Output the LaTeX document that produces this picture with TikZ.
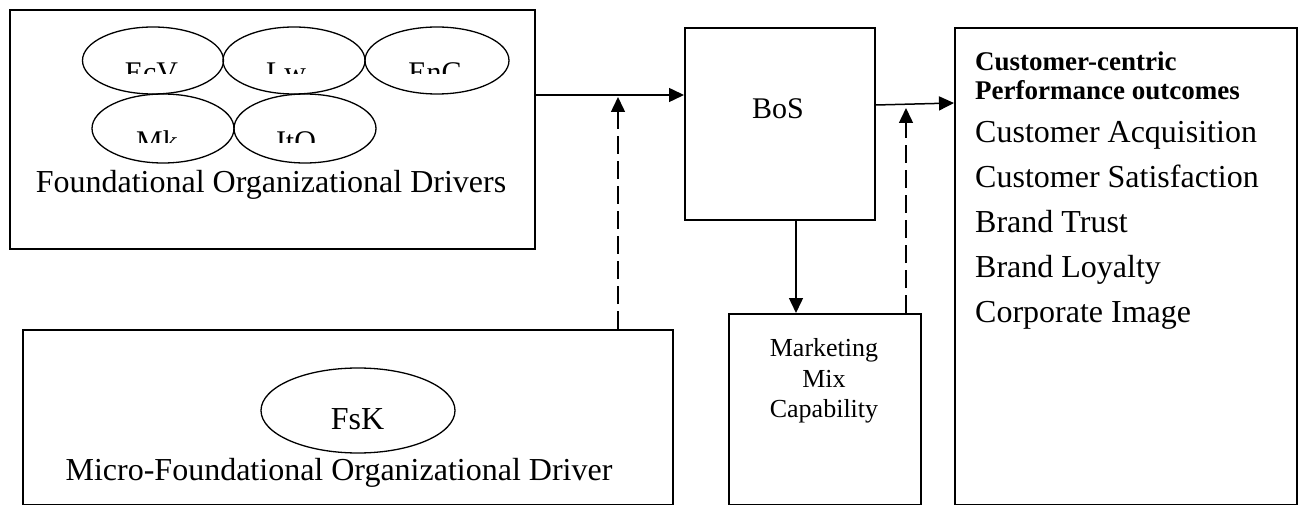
\documentclass[tikz,border=0pt]{standalone}
\usepackage{fontspec}
\setmainfont{Liberation Serif}
\usetikzlibrary{arrows.meta,shapes.geometric}
\begin{document}
\begin{tikzpicture}[x=1pt,y=-1pt,
  box/.style={draw,line width=1.6pt,inner sep=0pt,anchor=north west},
  ell/.style={draw,ellipse,line width=1.3pt,inner sep=0pt},
  conn/.style={line width=1.5pt,-{Triangle[length=15pt,width=14pt]}},
  dconn/.style={conn,dash pattern=on 18pt off 7pt},
  txt/.style={inner sep=0pt,anchor=base,font=\fontsize{32}{38}\selectfont},
  etxt/.style={inner sep=0pt,anchor=base,font=\fontsize{30}{36}\selectfont},
  ltxt/.style={inner sep=0pt,anchor=base west,font=\fontsize{32}{38}\selectfont},
  btxt/.style={inner sep=0pt,anchor=base west,font=\fontsize{27}{32}\selectfont\bfseries},
  stxt/.style={inner sep=0pt,anchor=base,font=\fontsize{26}{30}\selectfont}
]
\useasboundingbox (0,0) rectangle (1304,505);
\fill[white] (0,0) rectangle (1304,505);

% boxes
\node[box,minimum width=525,minimum height=239] (fod) at (9,9) {};
\node[box,minimum width=190,minimum height=192] (bos) at (684,27) {};
\node[box,minimum width=342,minimum height=477] (out) at (954,27) {};
\node[box,minimum width=650,minimum height=175] (micro) at (22,329) {};
\node[box,minimum width=192,minimum height=191] (mmc) at (728,313) {};

% ellipses
\node[ell,minimum width=141,minimum height=67] (eEcV) at (153,60.5) {};
\node[ell,minimum width=142,minimum height=67] (eLw) at (294,60.5) {};
\node[ell,minimum width=144,minimum height=67] (eEnC) at (437,60.5) {};
\node[ell,minimum width=142,minimum height=69] (eMk) at (163,128.5) {};
\node[ell,minimum width=142,minimum height=69] (eItO) at (305,128.5) {};
\node[ell,minimum width=194,minimum height=85] (eFsK) at (358,410.5) {};

% clipped ellipse labels
\begin{scope}
\clip (0,0) rectangle (1304,74);
\node[etxt] (tEcV) at (151.5,83) {EcV};
\node[etxt] (tLw) at (286,83) {Lw};
\node[etxt] (tEnC) at (435,83) {EnC};
\end{scope}
\begin{scope}
\clip (0,95) rectangle (1304,143);
\node[etxt] (tMk) at (157,152) {Mk};
\node[etxt] (tItO) at (296,152) {ItO};
\end{scope}

% texts
\node[txt] (tfod) at (271,193) {Foundational Organizational Drivers};
\node[etxt] (tbos) at (778,119) {BoS};
\node[txt] (tfsk) at (357.5,429) {FsK};
\node[txt] (tmicro) at (339,480) {Micro-Foundational Organizational Driver};
\node[stxt] (tm1) at (824,356) {Marketing};
\node[stxt] (tm2) at (824,387) {Mix};
\node[stxt] (tm3) at (824,417) {Capability};
\node[btxt] (o1) at (975,71) {Customer-centric};
\node[btxt] (o2) at (975,100) {Performance outcomes};
\node[ltxt] (o3) at (975,143) {Customer Acquisition};
\node[ltxt] (o4) at (975,188) {Customer Satisfaction};
\node[ltxt] (o5) at (975,232.5) {Brand Trust};
\node[ltxt] (o6) at (975,277) {Brand Loyalty};
\node[ltxt] (o7) at (975,322) {Corporate Image};

% helper coordinates
\coordinate (y95) at (0,95);
\coordinate (x618) at (618,0);
\coordinate (tip1) at (618,97);
\coordinate (x796) at (796,0);
\coordinate (y105) at (0,105);
\coordinate (y103) at (0,103);
\coordinate (x906) at (906,0);
\coordinate (tip2) at (906,108);

% connectors
\draw[conn] (fod.east |- y95) -- (bos.west |- y95);
\draw[dconn] (micro.north -| x618) -- (tip1);
\draw[conn] (bos.south -| x796) -- (mmc.north -| x796);
\draw[conn] (bos.east |- y105) -- (out.west |- y103);
\draw[dconn] (mmc.north -| x906) -- (tip2);
\end{tikzpicture}
\end{document}
